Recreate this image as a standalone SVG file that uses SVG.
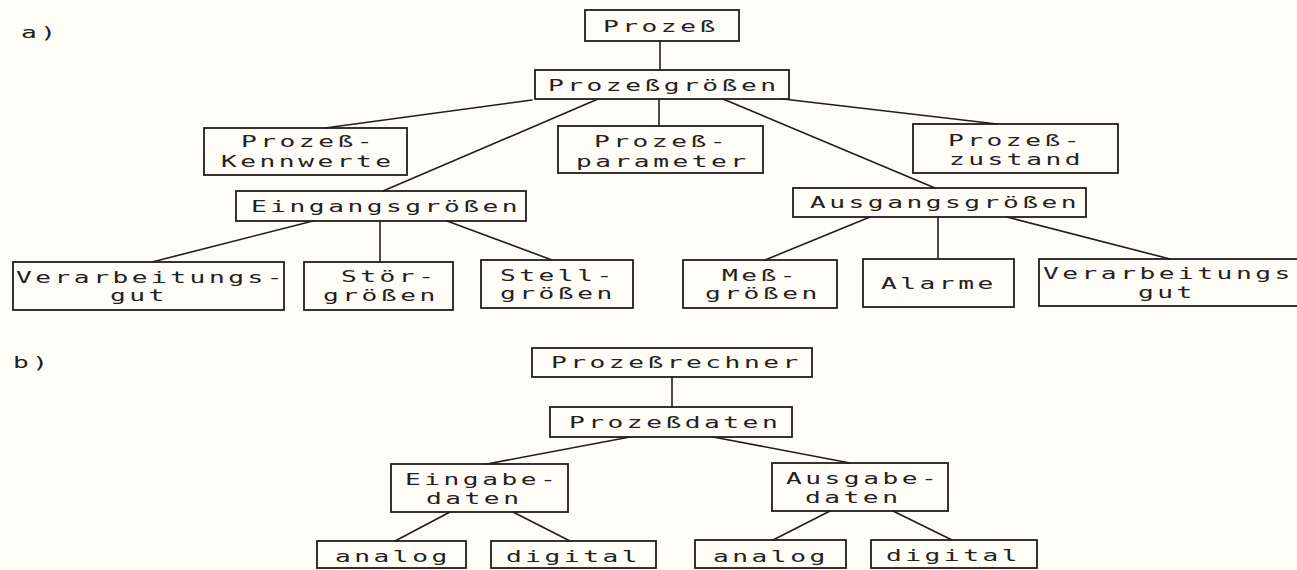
<svg xmlns="http://www.w3.org/2000/svg" width="1297" height="570" viewBox="0 0 1297 570">
  <style>
    .bg { fill: #fffdf5; }
    .box { fill: none; stroke: #1e1e1e; stroke-width: 1.8; }
    .edge { stroke: #1e1e1e; stroke-width: 1.6; fill: none; stroke-linecap: round; }
    /* wide plotter-style lettering: monospace stretched 1.75x horizontally, pitch ~19.3px */
    .t { font-family: "DejaVu Sans Mono", "Liberation Mono", monospace; font-size: 15px; letter-spacing: 2px; fill: #222; }
  </style>
  <rect class="bg" x="0" y="0" width="1297" height="570"/>

  <!-- part labels -->
  <text class="t" transform="translate(21,38) scale(1.75,1)">a)</text>
  <text class="t" transform="translate(13,368) scale(1.75,1)">b)</text>

  <!-- connectors -->
  <g id="connectors">
    <line class="edge" x1="660" y1="41" x2="660" y2="70"/>
    <line class="edge" x1="532" y1="100" x2="325" y2="128"/>
    <line class="edge" x1="598" y1="99" x2="383" y2="191"/>
    <line class="edge" x1="659" y1="99" x2="659" y2="126"/>
    <line class="edge" x1="723" y1="99" x2="935" y2="188"/>
    <line class="edge" x1="783" y1="99" x2="997" y2="124"/>
    <line class="edge" x1="313" y1="221" x2="152" y2="262"/>
    <line class="edge" x1="380" y1="221" x2="380" y2="262"/>
    <line class="edge" x1="447" y1="221" x2="552" y2="260"/>
    <line class="edge" x1="870" y1="217" x2="765" y2="260"/>
    <line class="edge" x1="938" y1="217" x2="938" y2="259"/>
    <line class="edge" x1="1007" y1="217" x2="1170" y2="259"/>
    <line class="edge" x1="672" y1="377" x2="672" y2="407"/>
    <line class="edge" x1="630" y1="437" x2="487" y2="464"/>
    <line class="edge" x1="713" y1="437" x2="850" y2="463"/>
    <line class="edge" x1="450" y1="512" x2="395" y2="541"/>
    <line class="edge" x1="513" y1="512" x2="570" y2="541"/>
    <line class="edge" x1="830" y1="511" x2="773" y2="540"/>
    <line class="edge" x1="893" y1="511" x2="952" y2="540"/>
  </g>

  <!-- a) Prozess tree -->
  <g id="prozess">
    <rect class="box" x="585" y="10" width="154" height="31"/>
    <text class="t" transform="translate(603,32) scale(1.75,1)">Prozeß</text>
  </g>
  <g id="prozessgroessen">
    <rect class="box" x="535" y="70" width="254" height="29"/>
    <text class="t" transform="translate(548,91) scale(1.75,1)">Prozeßgrößen</text>
  </g>
  <g id="kennwerte">
    <rect class="box" x="204" y="128" width="203" height="47"/>
    <text class="t" transform="translate(241,147) scale(1.75,1)">Prozeß-</text>
    <text class="t" transform="translate(221,167) scale(1.75,1)">Kennwerte</text>
  </g>
  <g id="parameter">
    <rect class="box" x="558" y="126" width="205" height="47"/>
    <text class="t" transform="translate(594,147) scale(1.75,1)">Prozeß-</text>
    <text class="t" transform="translate(576,167) scale(1.75,1)">parameter</text>
  </g>
  <g id="zustand">
    <rect class="box" x="913" y="124" width="205" height="49"/>
    <text class="t" transform="translate(948,146) scale(1.75,1)">Prozeß-</text>
    <text class="t" transform="translate(949,165) scale(1.75,1)">zustand</text>
  </g>
  <g id="eingangsgroessen">
    <rect class="box" x="236" y="191" width="290" height="30"/>
    <text class="t" transform="translate(251,212) scale(1.75,1)">Eingangsgrößen</text>
  </g>
  <g id="ausgangsgroessen">
    <rect class="box" x="793" y="188" width="293" height="29"/>
    <text class="t" transform="translate(810,208) scale(1.75,1)">Ausgangsgrößen</text>
  </g>
  <g id="verarbeitungsgut-ein">
    <rect class="box" x="13" y="262" width="271" height="48"/>
    <text class="t" transform="translate(16,283) scale(1.75,1)">Verarbeitungs-</text>
    <text class="t" transform="translate(110,301) scale(1.75,1)">gut</text>
  </g>
  <g id="stoergroessen">
    <rect class="box" x="304" y="262" width="149" height="48"/>
    <text class="t" transform="translate(341,282) scale(1.75,1)">Stör-</text>
    <text class="t" transform="translate(323,301) scale(1.75,1)">größen</text>
  </g>
  <g id="stellgroessen">
    <rect class="box" x="481" y="260" width="152" height="48"/>
    <text class="t" transform="translate(500,281) scale(1.75,1)">Stell-</text>
    <text class="t" transform="translate(500,299) scale(1.75,1)">größen</text>
  </g>
  <g id="messgroessen">
    <rect class="box" x="683" y="260" width="154" height="48"/>
    <text class="t" transform="translate(722,281) scale(1.75,1)">Meß-</text>
    <text class="t" transform="translate(705,299) scale(1.75,1)">größen</text>
  </g>
  <g id="alarme">
    <rect class="box" x="863" y="259" width="151" height="48"/>
    <text class="t" transform="translate(881,289) scale(1.75,1)">Alarme</text>
  </g>
  <g id="verarbeitungsgut-aus">
    <rect class="box" x="1039" y="259" width="300" height="47"/>
    <text class="t" transform="translate(1043,279) scale(1.75,1)">Verarbeitungs-</text>
    <text class="t" transform="translate(1138,298) scale(1.75,1)">gut</text>
  </g>

  <!-- b) Prozessrechner tree -->
  <g id="prozessrechner">
    <rect class="box" x="532" y="348" width="280" height="29"/>
    <text class="t" transform="translate(551,368) scale(1.75,1)">Prozeßrechner</text>
  </g>
  <g id="prozessdaten">
    <rect class="box" x="550" y="407" width="242" height="30"/>
    <text class="t" transform="translate(569,428) scale(1.75,1)">Prozeßdaten</text>
  </g>
  <g id="eingabedaten">
    <rect class="box" x="391" y="464" width="177" height="48"/>
    <text class="t" transform="translate(405,485) scale(1.75,1)">Eingabe-</text>
    <text class="t" transform="translate(426,504) scale(1.75,1)">daten</text>
  </g>
  <g id="ausgabedaten">
    <rect class="box" x="772" y="463" width="176" height="48"/>
    <text class="t" transform="translate(786,484) scale(1.75,1)">Ausgabe-</text>
    <text class="t" transform="translate(805,503) scale(1.75,1)">daten</text>
  </g>
  <g id="eingabe-analog">
    <rect class="box" x="317" y="541" width="149" height="27"/>
    <text class="t" transform="translate(335,562) scale(1.75,1)">analog</text>
  </g>
  <g id="eingabe-digital">
    <rect class="box" x="491" y="541" width="165" height="27"/>
    <text class="t" transform="translate(506,562) scale(1.75,1)">digital</text>
  </g>
  <g id="ausgabe-analog">
    <rect class="box" x="695" y="540" width="151" height="28"/>
    <text class="t" transform="translate(713,562) scale(1.75,1)">analog</text>
  </g>
  <g id="ausgabe-digital">
    <rect class="box" x="871" y="540" width="166" height="28"/>
    <text class="t" transform="translate(886,561) scale(1.75,1)">digital</text>
  </g>
</svg>
